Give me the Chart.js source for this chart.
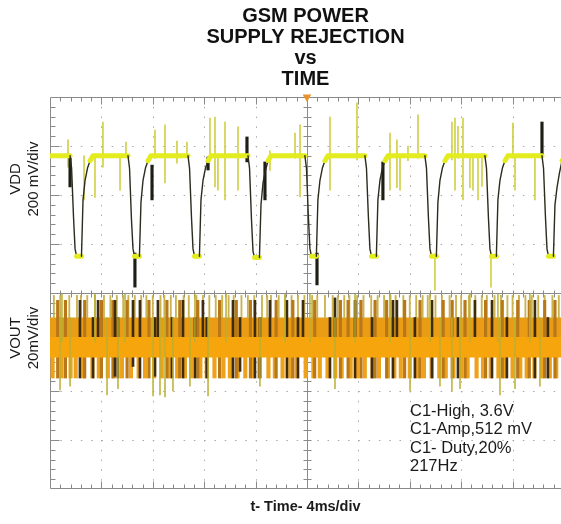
<!DOCTYPE html>
<html>
<head>
<meta charset="utf-8">
<script src="https://cdn.jsdelivr.net/npm/chart.js@4.4.0/dist/chart.umd.min.js"></script>
<style>
html,body{margin:0;padding:0;background:#ffffff;}
#wrap{width:561px;height:524px;position:relative;}
</style>
</head>
<body>
<div id="wrap"><canvas id="c" width="561" height="524"></canvas></div>
<script>
// ---------- text ----------
const titleLines = ['GSM POWER', 'SUPPLY REJECTION', 'vs', 'TIME'];
const xTitle = 't- Time- 4ms/div';
const vddLabel = ['VDD', '200 mV/div'];
const voutLabel = ['VOUT', '20mV/div'];
const noteLines = ['C1-High, 3.6V', 'C1-Amp,512 mV', 'C1- Duty,20%', '217Hz'];

// ---------- axes (time in ms, VDD in V, VOUT in mV) ----------
const xRange = [0, 39.77];
const xMajorStep = 4, xMinorStep = 0.8;
const vddRange = [3.04, 3.84];
const vddMajorStep = 0.2, vddMinorStep = 0.04;
const voutRange = [-60, 20];
const voutMajorStep = 20, voutMinorStep = 4;
const triggerT = [20];

// ---------- VDD trace ----------
const vddT = [0,
 1.56,1.68,1.83,1.95,2.07,2.45,2.57,2.73,2.92,3.12,3.35,
 6.07,6.19,6.34,6.46,6.58,6.96,7.08,7.24,7.43,7.63,7.86,
 10.74,10.86,11.01,11.13,11.25,11.63,11.75,11.91,12.10,12.30,12.53,
 15.41,15.53,15.68,15.80,15.92,16.30,16.42,16.58,16.77,16.97,17.20,
 19.84,19.96,20.11,20.23,20.35,20.73,20.85,21.01,21.20,21.40,21.63,
 24.51,24.63,24.78,24.90,25.02,25.40,25.52,25.68,25.87,26.07,26.30,
 29.18,29.30,29.45,29.57,29.69,30.07,30.19,30.35,30.54,30.74,30.97,
 33.85,33.97,34.12,34.24,34.36,34.74,34.86,35.02,35.21,35.41,35.64,
 38.29,38.41,38.56,38.68,38.80,39.18,39.30,39.46,39.65,39.85,40.08];
const vddV = [3.60,
 3.60,3.55,3.35,3.22,3.19,3.19,3.42,3.50,3.55,3.58,3.60,
 3.60,3.55,3.34,3.22,3.19,3.19,3.41,3.50,3.55,3.58,3.60,
 3.60,3.55,3.35,3.22,3.19,3.19,3.42,3.50,3.55,3.58,3.60,
 3.60,3.55,3.34,3.21,3.185,3.185,3.40,3.49,3.54,3.58,3.60,
 3.60,3.55,3.35,3.22,3.19,3.19,3.42,3.50,3.55,3.58,3.60,
 3.60,3.55,3.35,3.22,3.19,3.19,3.42,3.50,3.55,3.58,3.60,
 3.60,3.55,3.35,3.22,3.19,3.19,3.41,3.50,3.55,3.58,3.60,
 3.60,3.55,3.35,3.22,3.19,3.19,3.42,3.50,3.55,3.58,3.60,
 3.60,3.55,3.35,3.22,3.19,3.19,3.40,3.47,3.53,3.58,3.60];

// thin yellow glitches on VDD
const vddSpikeT  = [1.40,2.65,3.50,4.12,5.45,5.91,8.17,8.95,9.88,10.66,12.45,12.84,13.07,13.62,14.63,17.12,19.07,19.46,21.79,23.89,26.46,27.00,27.24,27.86,28.64,29.96,31.28,31.52,31.75,32.14,32.68,32.92,33.31,33.62,34.32,36.03,36.19,37.74];
const vddSpikeHi = [3.665,3.60,3.60,3.738,3.60,3.656,3.705,3.726,3.66,3.656,3.754,3.758,3.60,3.738,3.718,3.62,3.693,3.726,3.758,3.816,3.693,3.665,3.60,3.64,3.767,3.20,3.738,3.754,3.72,3.754,3.60,3.60,3.60,3.60,3.20,3.734,3.60,3.60];
const vddSpikeLo = [3.554,3.42,3.43,3.554,3.46,3.595,3.59,3.489,3.57,3.595,3.58,3.473,3.46,3.42,3.46,3.54,3.59,3.432,3.46,3.583,3.46,3.47,3.46,3.58,3.59,3.052,3.583,3.46,3.59,3.42,3.47,3.46,3.42,3.475,3.064,3.59,3.46,3.42];

// dark marks on VDD
const vddDarkT  = [1.56,6.61,7.94,12.30,15.33,16.73,20.78,25.91,38.29];
const vddDarkHi = [3.595,3.203,3.562,3.595,3.677,3.575,3.203,3.575,3.738];
const vddDarkLo = [3.473,3.064,3.42,3.542,3.575,3.42,3.073,3.42,3.595];

// ---------- VOUT ripple band ----------
const voutCore = [10, 2, -6.3];
const voutThinT = [0.3,0.8,1.5,2.1,2.4,2.9,3.5,4.2,4.7,5.2,5.7,6.1,6.6,7.1,7.5,8.0,8.6,8.9,9.4,9.8,10.4,10.8,11.4,11.9,12.4,12.9,13.4,13.9,14.3,14.9,15.4,15.9,16.5,16.9,17.2,17.8,18.3,18.8,19.3,19.8,20.4,20.8,21.4,22.0,22.4,22.9,23.3,23.9,24.4,25.0,25.5,26.0,26.5,26.9,27.5,28.0,28.5,29.0,29.4,30.0,30.5,31.1,31.6,32.0,32.6,33.1,33.6,34.0,34.6,35.1,35.6,36.0,36.5,37.0,37.5,38.0,38.5,39.1,39.6];
const voutThinRange = [9.5, 19];
const voutLowT = [0.2,0.9,1.6,2.0,2.6,3.3,3.8,4.5,5.0,5.6,6.3,6.9,7.4,8.1,8.7,9.3,9.9,10.5,11.0,11.7,12.2,12.8,13.5,14.0,14.6,15.2,15.8,16.3,17.0,17.5,18.1,18.7,19.2,19.9,20.5,21.0,21.6,22.2,22.7,23.4,23.9,24.5,25.1,25.6,26.3,26.8,27.3,28.0,28.6,29.1,29.7,30.3,30.8,31.4,32.0,32.5,33.2,33.7,34.3,34.9,35.4,36.0,36.6,37.1,37.7,38.3,38.9,39.4];
const voutLowRange = [-14.7, -6];
const voutBrownT = [0.6,1.2,2.7,4.0,4.9,6.0,7.7,9.1,10.1,11.5,13.2,14.5,15.6,17.6,18.9,20.6,22.6,23.2,24.2,25.3,26.2,27.6,28.8,30.6,31.3,32.3,33.9,35.2,36.4,37.3,38.5,39.3];
const voutBrownRange = [-14.7, 17];
const voutDarkT  = [2.33,3.35,3.74,5.06,5.29,6.46,7.00,8.17,8.40,9.49,10.35,11.28,11.90,12.20,14.24,14.79,15.95,16.34,17.12,18.44,19.30,19.69,21.79,22.18,23.74,25.06,26.69,27.00,28.40,29.73,31.75,33.07,34.40,35.56,37.74,38.75];
const voutDarkHi = [17,10,17,17,10,17,17,10,17,10,17,10,17,10,17,10,17,10,17,17,10,17,10,18,17,10,17,17,10,17,10,17,17,10,17,10];
const voutDarkLo = [-14.7,-14.7,2,-14,-14.7,-10,-14.7,-14,2,-14.7,-14.7,-14.7,2,-14.7,-14.7,-12,-14.7,-14.7,2,-14.7,-14.7,2,-14.7,2,-14.7,-14.7,-14.7,2,-14.7,-14.7,-14.7,2,-14.7,-14.7,-14.7,-14.7];
const voutSpikeT  = [0.78,1.56,4.44,5.29,8.02,8.56,8.95,9.57,10.89,12.30,16.34,22.18,28.02,30.35,31.28,31.91,35.02,36.19,38.13,0.93,3.50,5.84,11.28,13.70,18.29,20.23,23.74,26.46,29.57,32.68,34.86,37.35];
const voutSpikeHi = [10,10,10,10,10,10,10,10,10,10,10,10,10,10,10,10,10,10,10,19.5,19.5,19.5,19.5,19.5,19.5,19.5,19.5,19.5,19.5,19.5,19.5,19.5];
const voutSpikeLo = [-19.6,-18,-21.6,-19,-22,-21.6,-22.4,-20,-18,-22,-18,-19,-20,-18,-20,-19,-21.6,-19,-18,0,0,0,0,0,0,0,0,0,0,0,0,0];

// ---------- helpers to build library tables ----------
const pts = (t, v) => t.map((x, i) => ({x, y: v[i]}));
const bars = (t, hi, lo) => t.map((x, i) => ({x, y: [lo[i], hi[i]]}));
const barsR = (t, r) => t.map(x => ({x, y: [r[0], r[1]]}));
const level = v => xRange.map(x => ({x, y: v}));

const FONT = "'Liberation Sans', Arial, Helvetica, sans-serif";
const isFlat = c => {
  const a = c.p0.parsed.y, b = c.p1.parsed.y;
  return (a >= 3.58 && b >= 3.58) || (a <= 3.195 && b <= 3.195);
};

const barDS = (data, color, thick, axis, order) => ({
  type: 'bar', data, yAxisID: axis, backgroundColor: color, borderWidth: 0,
  barThickness: thick, grouped: false, order
});

const datasets = [
  {
    type: 'line', label: 'VDD', data: pts(vddT, vddV), yAxisID: 'yTop',
    borderColor: '#2b2b1e', borderWidth: 1.3, pointRadius: 0, tension: 0,
    borderJoinStyle: 'round', borderCapStyle: 'round', order: 0,
    segment: {
      borderColor: c => isFlat(c) ? '#e3ec1e' : '#2b2b1e',
      borderWidth: c => isFlat(c) ? 5 : 1.4
    }
  },
  barDS(bars(vddDarkT, vddDarkHi, vddDarkLo), '#1e1e14', 2.5, 'yTop', 1),
  barDS(bars(vddSpikeT, vddSpikeHi, vddSpikeLo), 'rgba(200,200,40,0.85)', 1, 'yTop', 2),
  barDS(bars(voutSpikeT, voutSpikeHi, voutSpikeLo), 'rgba(185,175,50,0.9)', 1, 'yBot', 3),
  {
    type: 'line', label: 'VOUT core low', data: level(voutCore[1]), yAxisID: 'yBot',
    borderWidth: 0, pointRadius: 0, fill: {value: voutCore[2]},
    backgroundColor: '#f6a60c', order: 4
  },
  barDS(bars(voutDarkT, voutDarkHi, voutDarkLo), '#3e2c10', 2, 'yBot', 5),
  barDS(barsR(voutBrownT, voutBrownRange), '#b8781a', 2.5, 'yBot', 6),
  barDS(barsR(voutLowT, voutLowRange), '#eea21c', 3.5, 'yBot', 7),
  barDS(barsR(voutThinT, voutThinRange), 'rgba(196,172,60,0.9)', 1.2, 'yBot', 8),
  {
    type: 'line', label: 'VOUT core high', data: level(voutCore[0]), yAxisID: 'yBot',
    borderWidth: 0, pointRadius: 0, fill: {value: voutCore[1]},
    backgroundColor: '#e99c14', order: 9
  },
  {
    type: 'line', label: 'trigger', data: triggerT.map(x => ({x, y: vddRange[1]})), yAxisID: 'yTop',
    showLine: false, pointStyle: 'triangle', rotation: 180, pointRadius: 5,
    pointBackgroundColor: '#e8922a', pointBorderWidth: 0, clip: false, order: 0
  }
];

// ---------- oscilloscope graticule, drawn through the scales ----------
const graticule = {
  id: 'graticule',
  beforeDatasetsDraw(chart) {
    const {ctx, chartArea: a, scales} = chart;
    const sx = scales.x, yt = scales.yTop, yb = scales.yBot;
    const px = v => Math.round(sx.getPixelForValue(v)) + 0.5;
    const pyT = v => Math.round(yt.getPixelForValue(v)) + 0.5;
    const pyB = v => Math.round(yb.getPixelForValue(v)) + 0.5;
    const xMinorPx = Math.abs(sx.getPixelForValue(xMinorStep) - sx.getPixelForValue(0));
    const yMinorPx = Math.abs(yt.getPixelForValue(vddRange[0] + vddMinorStep) - yt.getPixelForValue(vddRange[0]));
    const xCenter = px(triggerT[0]);
    const yCenter = pyT(vddRange[0]);
    ctx.save();
    ctx.lineWidth = 1;
    // dotted major lines
    ctx.strokeStyle = '#a9a9a9';
    ctx.setLineDash([1.5, yMinorPx - 1.5]);
    for (let i = 1; i * xMajorStep < xRange[1]; i++) {
      const v = i * xMajorStep; if (Math.abs(v - triggerT[0]) < 1e-6) continue;
      const x = px(v);
      ctx.beginPath(); ctx.moveTo(x, a.top); ctx.lineTo(x, a.bottom); ctx.stroke();
    }
    ctx.setLineDash([1.5, xMinorPx - 1.5]);
    const hLines = [];
    for (let i = 1; i < 4; i++) hLines.push(pyT(vddRange[0] + i * vddMajorStep));
    for (let i = 1; i < 4; i++) hLines.push(pyB(voutRange[0] + i * voutMajorStep));
    hLines.forEach(y => { ctx.beginPath(); ctx.moveTo(a.left, y); ctx.lineTo(a.right, y); ctx.stroke(); });
    ctx.setLineDash([]);
    // solid frame and centre cross
    ctx.strokeStyle = '#8a8a8a';
    const L = Math.round(a.left) + 0.5, T = Math.round(a.top) + 0.5, B = Math.round(a.bottom) - 0.5;
    ctx.beginPath();
    ctx.moveTo(a.right, T); ctx.lineTo(L, T); ctx.lineTo(L, B); ctx.lineTo(a.right, B);
    ctx.moveTo(xCenter, a.top); ctx.lineTo(xCenter, a.bottom);
    ctx.moveTo(a.left, yCenter); ctx.lineTo(a.right, yCenter);
    ctx.stroke();
    // minor ticks along time
    ctx.beginPath();
    for (let i = 1; i * xMinorStep < xRange[1]; i++) {
      const v = i * xMinorStep, x = px(v);
      const major = Math.abs(v / xMajorStep - Math.round(v / xMajorStep)) < 1e-6;
      const len = major ? 7 : 4;
      ctx.moveTo(x, T); ctx.lineTo(x, T + len);
      ctx.moveTo(x, B); ctx.lineTo(x, B - len);
      ctx.moveTo(x, yCenter - 3); ctx.lineTo(x, yCenter + 4);
    }
    // minor ticks along voltage
    const yTicks = [];
    for (let i = 1; i < 20; i++) yTicks.push([pyT(vddRange[0] + i * vddMinorStep), i % 5 === 0]);
    for (let i = 1; i < 20; i++) yTicks.push([pyB(voutRange[0] + i * voutMinorStep), i % 5 === 0]);
    yTicks.forEach(([y, major]) => {
      ctx.moveTo(L, y); ctx.lineTo(L + (major ? 9 : 5), y);
      ctx.moveTo(xCenter - 4, y); ctx.lineTo(xCenter + 4, y);
    });
    ctx.stroke();
    ctx.restore();
  },
  afterDraw(chart) {
    const {ctx, chartArea: a} = chart;
    ctx.save();
    ctx.fillStyle = '#1a1a1a';
    ctx.textAlign = 'center';
    ctx.textBaseline = 'middle';
    ctx.font = '15px ' + FONT;
    const rot = (lines, cy) => {
      lines.forEach((s, i) => {
        ctx.save();
        ctx.translate(a.left - 34 + i * 18, cy);
        ctx.rotate(-Math.PI / 2);
        ctx.fillText(s, 0, 0);
        ctx.restore();
      });
    };
    rot(vddLabel, a.top + 82);
    rot(voutLabel, a.top + 241);
    ctx.textAlign = 'left';
    ctx.font = '16.5px ' + FONT;
    noteLines.forEach((s, i) => ctx.fillText(s, a.left + 360, a.top + 314 + i * 18.5));
    ctx.restore();
  }
};

const hiddenY = (range, step) => ({
  type: 'linear', position: 'left', stack: 'scope', stackWeight: 1,
  min: range[0], max: range[1],
  ticks: {display: false, stepSize: step},
  grid: {display: false, drawTicks: false},
  border: {display: false}
});

new Chart(document.getElementById('c'), {
  type: 'line',
  data: {datasets},
  options: {
    responsive: false,
    devicePixelRatio: 1,
    animation: false,
    events: [],
    layout: {autoPadding: false, padding: {left: 50, right: 0, top: 0, bottom: 0}},
    plugins: {
      legend: {display: false},
      tooltip: {enabled: false},
      title: {
        display: true, text: titleLines, color: '#111', fullSize: false,
        font: {family: FONT, size: 20, weight: 'bold', lineHeight: 1.065},
        padding: {top: 5.4, bottom: 6.4}
      }
    },
    scales: {
      x: {
        type: 'linear', min: xRange[0], max: xRange[1], offset: false,
        ticks: {display: false, stepSize: xMajorStep, includeBounds: false},
        grid: {display: false, drawTicks: false, offset: false},
        border: {display: false},
        title: {
          display: true, text: xTitle, color: '#1a1a1a',
          font: {family: FONT, size: 14.5, weight: 'bold', lineHeight: 1.2},
          padding: {top: 9, bottom: 8.6}
        }
      },
      yBot: hiddenY(voutRange, voutMajorStep),
      yTop: hiddenY(vddRange, vddMajorStep)
    }
  },
  plugins: [graticule]
});
</script>
</body>
</html>
